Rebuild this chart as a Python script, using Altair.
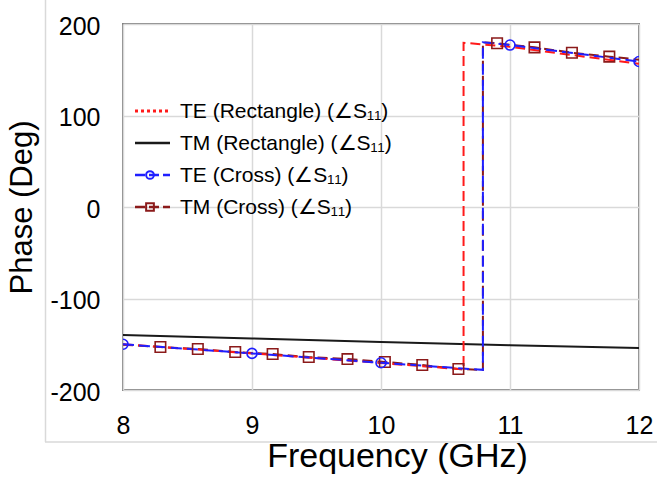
import altair as alt
import pandas as pd

FONT = "Liberation Sans"

# ---------------- data ----------------
# TE (Rectangle) – red dashed
te_rect_f = [8, 9, 10, 10.64, 10.64, 11, 12]
te_rect_v = [-150, -160, -170.5, -177.5, 179.5, 175, 156.5]

# TM (Rectangle) – black solid
tm_rect_f = [8, 9, 10, 11, 12]
tm_rect_v = [-140, -143.7, -147.5, -151, -154]

# TE (Cross) – blue dashed, circle markers
te_cross_f = [8, 9, 10, 10.79, 10.79, 11, 12]
te_cross_v = [-150, -160, -170.2, -178, 180, 177, 159]
te_cross_mf = [8, 9, 10, 11, 12]
te_cross_mv = [-150, -160, -170.2, 177, 159]

# TM (Cross) – dark red dashed, square markers
tm_cross_f = [8, 8.29, 8.58, 8.87, 9.16, 9.44, 9.74, 10.03, 10.32, 10.6,
              10.79, 10.79, 10.9, 11.19, 11.48, 11.77, 12]
tm_cross_v = [-150.5, -153, -155.2, -158.5, -160.7, -164, -166.2, -169.4,
              -172.7, -177.1, -178, 180, 178.9, 174.5, 168.6, 164.3, 161]
tm_cross_mf = [8.29, 8.58, 8.87, 9.16, 9.44, 9.74, 10.03, 10.32, 10.6,
               10.9, 11.19, 11.48, 11.77]
tm_cross_mv = [-153, -155.2, -158.5, -160.7, -164, -166.2, -169.4, -172.7,
               -177.1, 178.9, 174.5, 168.6, 164.3]

x_ticks = [8, 9, 10, 11, 12]
y_ticks = [-200, -100, 0, 100, 200]

legend_labels = ["TE (Rectangle) (∠S₁₁)", "TM (Rectangle) (∠S₁₁)",
                 "TE (Cross) (∠S₁₁)", "TM (Cross) (∠S₁₁)"]

# ---------------- styles ----------------
RED = "#ff1a1a"
BLACK = "#1a1a1a"
BLUE = "#1f1fff"
DRED = "#8b1a1a"

xscale = alt.Scale(domain=[8, 12], nice=False, zero=False)
yscale = alt.Scale(domain=[-200, 200], nice=False, zero=False)

xaxis = alt.Axis(values=x_ticks, title="Frequency (GHz)", grid=True, ticks=False,
                 domain=False, labelFontSize=25, labelPadding=23, labelFont=FONT,
                 labelColor="black", titleFont=FONT, titleFontSize=34,
                 titleFontWeight="normal", titleColor="black", titlePadding=1,
                 titleX=274, gridColor="#d9d9d9", gridWidth=1.5,
                 labelFlush=False, labelExpr="datum.value + ''")
yaxis = alt.Axis(values=y_ticks, title="Phase (Deg)", grid=True, ticks=False,
                 domain=False, labelFontSize=25, labelPadding=23, labelFont=FONT,
                 labelColor="black", titleFont=FONT, titleFontSize=31,
                 titleFontWeight="normal", titleColor="black", titlePadding=11,
                 labelOffset=2, gridColor="#d9d9d9", gridWidth=1.5,
                 labelFlush=False, labelExpr="datum.value + ''")


def series_df(f, v):
    return pd.DataFrame({"f": f, "v": v, "i": list(range(len(f)))})


def line(f, v, color, dash=None, width=2.0):
    kw = dict(color=color, strokeWidth=width, clip=True)
    if dash:
        kw["strokeDash"] = dash
    return alt.Chart(series_df(f, v)).mark_line(**kw).encode(
        x=alt.X("f:Q", scale=xscale, axis=xaxis),
        y=alt.Y("v:Q", scale=yscale, axis=yaxis),
        order="i:Q",
    )


def markers(f, v, color, shape, size):
    return alt.Chart(series_df(f, v)).mark_point(
        shape=shape, filled=False, color=color, size=size, strokeWidth=1.6,
        clip=True, opacity=1
    ).encode(
        x=alt.X("f:Q", scale=xscale, axis=xaxis),
        y=alt.Y("v:Q", scale=yscale, axis=yaxis),
    )


layers = [
    line(tm_rect_f, tm_rect_v, BLACK, None, 2.0),
    line(tm_cross_f, tm_cross_v, DRED, [10, 5], 2.0),
    line(te_rect_f, te_rect_v, RED, [10, 5], 2.0),
    line(te_cross_f, te_cross_v, BLUE, [11, 5], 2.0),
    markers(tm_cross_mf, tm_cross_mv, DRED, "square", 110),
    markers(te_cross_mf, te_cross_mv, BLUE, "circle", 100),
]

# outer light frame lines (chart-area border)
one = pd.DataFrame({"k": [0]})
layers.append(alt.Chart(one).mark_rule(color="#d9d9d9", strokeWidth=1.5).encode(
    x=alt.value(-77.5), y=alt.value(-24), y2=alt.value(418)))
layers.append(alt.Chart(one).mark_rule(color="#d9d9d9", strokeWidth=1.5).encode(
    x=alt.value(-78), x2=alt.value(534), y=alt.value(418)))

# manual legend
leg_colors = [RED, BLACK, BLUE, DRED]
leg_dashes = [[3, 3], None, [10, 4], [10, 4]]
leg_shapes = [None, None, "circle", "square"]
leg_widths = [3, 2.5, 2.5, 2.5]
for i, lab in enumerate(legend_labels):
    yy = 87 + 32 * i
    kw = dict(color=leg_colors[i], strokeWidth=leg_widths[i])
    if leg_dashes[i]:
        kw["strokeDash"] = leg_dashes[i]
    layers.append(alt.Chart(one).mark_rule(**kw).encode(
        x=alt.value(12), x2=alt.value(47), y=alt.value(yy)))
    if leg_shapes[i]:
        layers.append(alt.Chart(one).mark_point(
            shape=leg_shapes[i], filled=False, color=leg_colors[i],
            size=60, strokeWidth=2, opacity=1).encode(
            x=alt.value(27), y=alt.value(yy)))
    layers.append(alt.Chart(one).mark_text(
        align="left", baseline="alphabetic", font=FONT, fontSize=21,
        color="black").encode(
        x=alt.value(57), y=alt.value(yy + 7), text=alt.value(lab)))

chart = alt.layer(*layers).properties(
    width=516, height=366,
    autosize=alt.AutoSizeParams(type="none"),
    padding={"left": 123, "top": 24, "right": 18, "bottom": 89},
    background="white",
).configure_view(stroke="#808080", strokeWidth=2)

chart.save("out.html", embed_options={"renderer": "svg", "actions": False})
